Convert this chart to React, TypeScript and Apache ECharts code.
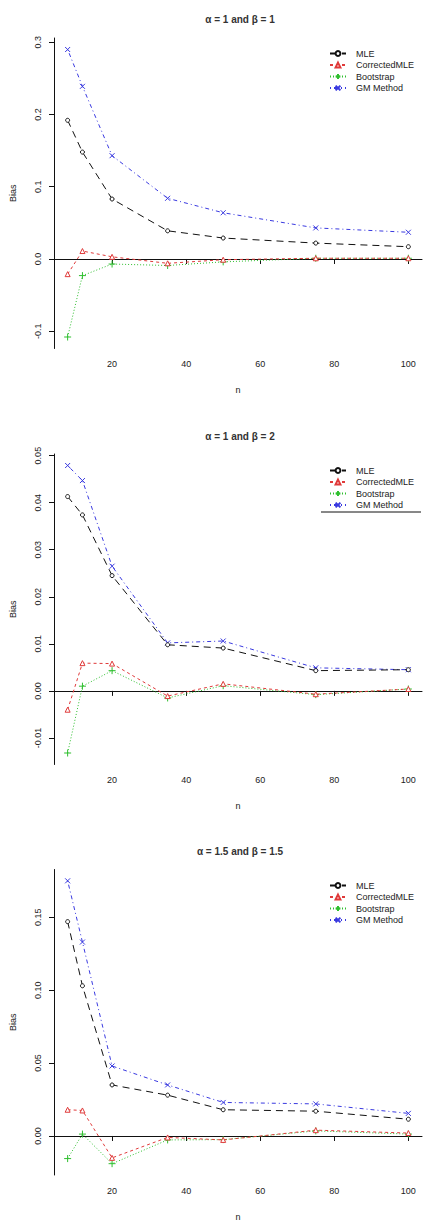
import React, { useEffect, useRef } from "react";
import * as echarts from "echarts";

const nValues = [8, 12, 20, 35, 50, 75, 100];
const seriesNames = ["MLE", "CorrectedMLE", "Bootstrap", "GM Method"];
const panelTitles = ["α = 1 and β = 1", "α = 1 and β = 2", "α = 1.5 and β = 1.5"];

// Panel 1: alpha = 1, beta = 1
const mle1 = [0.192, 0.148, 0.083, 0.039, 0.029, 0.022, 0.017];
const corr1 = [-0.021, 0.011, 0.003, -0.006, -0.001, 0.001, 0.001];
const boot1 = [-0.108, -0.023, -0.007, -0.009, -0.004, 0.001, 0.001];
const gm1 = [0.29, 0.239, 0.143, 0.084, 0.064, 0.043, 0.037];

// Panel 2: alpha = 1, beta = 2
const mle2 = [0.0413, 0.0374, 0.0245, 0.0098, 0.0091, 0.0043, 0.0045];
const corr2 = [-0.004, 0.0059, 0.0058, -0.0011, 0.0015, -0.0007, 0.0004];
const boot2 = [-0.0132, 0.001, 0.0043, -0.0015, 0.0011, -0.0008, 0.0004];
const gm2 = [0.0479, 0.0447, 0.0265, 0.0102, 0.0106, 0.0049, 0.0045];

// Panel 3: alpha = 1.5, beta = 1.5
const mle3 = [0.147, 0.103, 0.035, 0.028, 0.018, 0.017, 0.0115];
const corr3 = [0.018, 0.0175, -0.015, -0.001, -0.0027, 0.004, 0.002];
const boot3 = [-0.0155, 0.0013, -0.019, -0.0027, -0.0025, 0.0035, 0.0013];
const gm3 = [0.175, 0.133, 0.048, 0.035, 0.023, 0.022, 0.0155];

const xTicks = [20, 40, 60, 80, 100];
const yTicks1 = [-0.1, 0, 0.1, 0.2, 0.3];
const yTicks2 = [-0.01, 0, 0.01, 0.02, 0.03, 0.04, 0.05];
const yTicks3 = [0, 0.05, 0.1, 0.15];
const yDecimals = [1, 2, 2];

const panels = [
  { data: [mle1, corr1, boot1, gm1], ticks: yTicks1 },
  { data: [mle2, corr2, boot2, gm2], ticks: yTicks2 },
  { data: [mle3, corr3, boot3, gm3], ticks: yTicks3 },
];

// R-style 4% range extension
function extRange(vals: number[]) {
  const lo = Math.min(...vals);
  const hi = Math.max(...vals);
  const d = (hi - lo) * 0.04;
  return [lo - d, hi + d];
}

const gridTops = [38, 454, 869.5];
const gridHeight = 310.5;
const legendTops = [44, 461, 876];
const titleTops = [9, 426, 841];

const styles = [
  { color: "#111111", fill: "#ffffff", type: [7, 5], symbol: "circle", size: 4 },
  { color: "#e03a3a", fill: "#ffffff", type: [3, 3], symbol: "path://M5,0L10,9L0,9Z", size: 5 },
  { color: "#2fbf2f", fill: "#2fbf2f", type: [1, 2], symbol: "path://M0,5H10M5,0V10", size: 7 },
  { color: "#3a3ae0", fill: "#3a3ae0", type: [1, 3, 4, 3], symbol: "path://M0,0L10,10M10,0L0,10", size: 5 },
];

export default function App() {
  const ref = useRef<HTMLDivElement>(null);
  useEffect(() => {
    if (!ref.current) return;
    const chart = echarts.init(ref.current, null, { renderer: "svg" });
    const [xmin, xmax] = extRange(nValues);
    const font = "Liberation Sans, Arial, sans-serif";

    const grid = panels.map((_, i) => ({
      left: 48,
      top: gridTops[i],
      width: 374,
      height: gridHeight,
    }));

    const xAxis = panels.map((_, i) => ({
      type: "value",
      gridIndex: i,
      min: xmin,
      max: xmax,
      name: "n",
      nameLocation: "middle",
      nameGap: 37,
      nameTextStyle: { fontSize: 9, color: "#222", fontFamily: font },
      axisLine: { show: true, lineStyle: { color: "#111", width: 1 } },
      axisTick: { show: true, length: 5, customValues: xTicks, lineStyle: { color: "#111" } },
      axisLabel: {
        customValues: xTicks,
        fontSize: 9,
        color: "#222",
        fontFamily: font,
        margin: 11,
        formatter: (v: number) => String(Math.round(v)),
      },
      splitLine: { show: false },
    }));

    const yAxis = panels.map((p, i) => {
      const all = ([] as number[]).concat(...p.data);
      const [lo, hi] = extRange(all);
      return {
        type: "value",
        gridIndex: i,
        min: lo,
        max: hi,
        name: "Bias",
        nameLocation: "middle",
        nameRotate: 90,
        nameGap: 37,
        nameTextStyle: { fontSize: 9, color: "#222", fontFamily: font },
        axisLine: { show: true, lineStyle: { color: "#111", width: 1 } },
        axisTick: { show: true, length: 5, customValues: p.ticks, lineStyle: { color: "#111" } },
        axisLabel: {
          customValues: p.ticks,
          rotate: 90,
          fontSize: 9,
          color: "#222",
          fontFamily: font,
          margin: 12,
          formatter: (v: number) => v.toFixed(yDecimals[i]),
        },
        splitLine: { show: false },
      };
    });

    const series: any[] = [];
    panels.forEach((p, i) => {
      p.data.forEach((vals, k) => {
        const st = styles[k];
        series.push({
          type: "line",
          name: seriesNames[k],
          xAxisIndex: i,
          yAxisIndex: i,
          data: nValues.map((n, j) => [n, vals[j]]),
          symbol: st.symbol,
          symbolSize: st.size,
          lineStyle: { color: st.color, width: 1, type: st.type },
          itemStyle: { color: st.fill, borderColor: st.color, borderWidth: 1 },
          z: 2 + (3 - k),
        });
      });
    });

    const legend = panels.map((_, i) => ({
      data: seriesNames,
      orient: "vertical",
      left: 324,
      top: legendTops[i],
      itemWidth: 16,
      itemHeight: 6,
      itemGap: 2.5,
      selectedMode: false,
      textStyle: { fontSize: 9, color: "#222", fontFamily: font, padding: [0, 0, 0, 5] },
    }));

    const title = panels.map((_, i) => ({
      text: panelTitles[i],
      left: 235,
      top: titleTops[i],
      textAlign: "center",
      textStyle: { fontSize: 10, fontWeight: "bold", color: "#333", fontFamily: font },
    }));

    chart.setOption({
      animation: false,
      backgroundColor: "#ffffff",
      title,
      grid,
      xAxis,
      yAxis,
      legend,
      series,
      graphic: [
        {
          type: "line",
          shape: { x1: 321, y1: 512, x2: 421, y2: 512 },
          style: { stroke: "#111", lineWidth: 1 },
        },
      ],
    });
    return () => chart.dispose();
  }, []);
  return (
    <div
      ref={ref}
      style={{ position: "absolute", left: 0, top: 0, width: 429, height: 1222 }}
    />
  );
}
